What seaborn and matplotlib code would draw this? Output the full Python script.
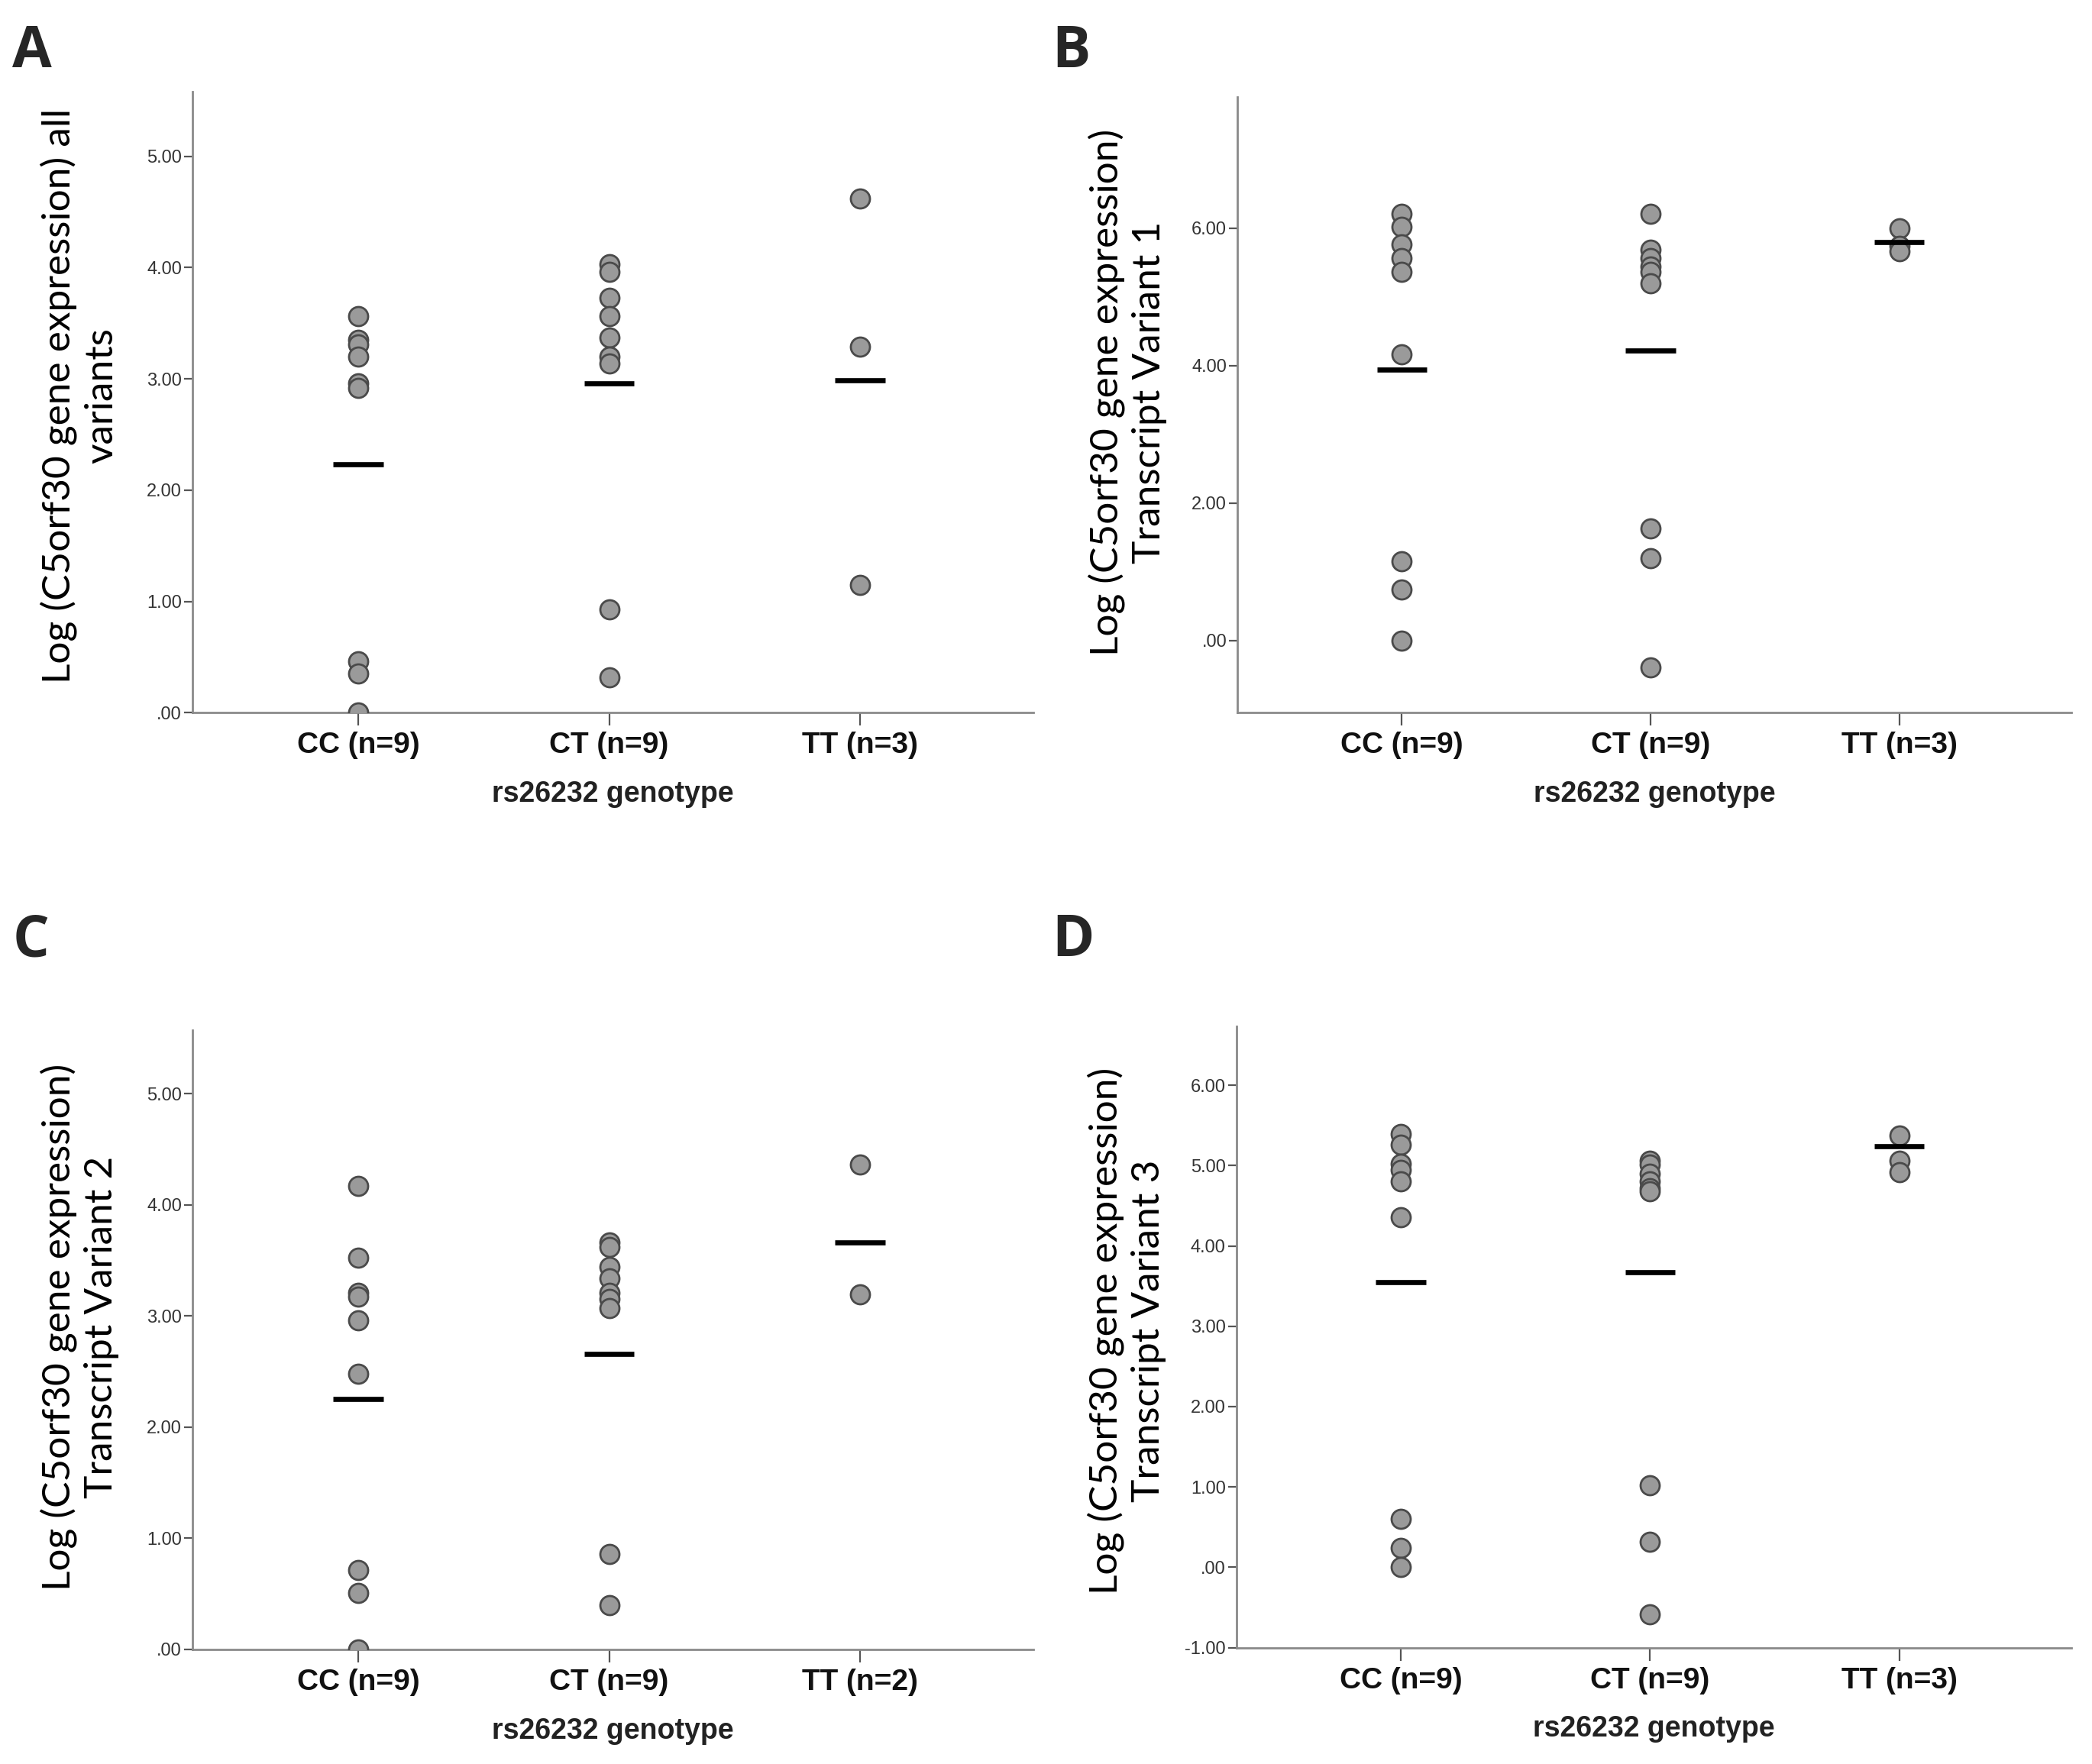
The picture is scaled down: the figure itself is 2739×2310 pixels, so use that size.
import matplotlib
matplotlib.use("Agg")
import matplotlib.pyplot as plt
import seaborn as sns
import pandas as pd
from matplotlib.ticker import FuncFormatter

# genotype groups
genotypes = ["CC", "CT", "TT"]

# A - all variants
a_cc = [3.56, 3.35, 3.31, 3.20, 2.96, 2.92, 0.46, 0.35, 0.00]
a_ct = [4.03, 3.96, 3.73, 3.56, 3.37, 3.20, 3.14, 0.93, 0.32]
a_tt = [4.62, 3.29, 1.15]
a_means = [2.23, 2.96, 2.99]

# B - transcript variant 1
b_cc = [6.21, 6.02, 5.77, 5.56, 5.36, 4.16, 1.15, 0.74, 0.00]
b_ct = [6.21, 5.69, 5.57, 5.44, 5.36, 5.20, 1.63, 1.20, -0.39]
b_tt = [6.00, 5.74, 5.66]
b_means = [3.94, 4.22, 5.80]

# C - transcript variant 2
c_cc = [4.17, 3.52, 3.21, 3.17, 2.96, 2.48, 0.71, 0.51, 0.00]
c_ct = [3.66, 3.62, 3.44, 3.34, 3.21, 3.15, 3.07, 0.86, 0.40]
c_tt = [4.36, 3.19]
c_means = [2.25, 2.66, 3.66]

# D - transcript variant 3
d_cc = [5.39, 5.26, 5.02, 4.95, 4.80, 4.36, 0.60, 0.24, 0.00]
d_ct = [5.06, 5.01, 4.90, 4.80, 4.72, 4.68, 1.02, 0.32, -0.59]
d_tt = [5.37, 5.06, 4.92]
d_means = [3.55, 3.67, 5.24]

ylabels = [
    "Log (C5orf30 gene expression) all\nvariants",
    "Log (C5orf30 gene expression)\nTranscript Variant 1",
    "Log (C5orf30 gene expression)\nTranscript Variant 2",
    "Log (C5orf30 gene expression)\nTranscript Variant 3",
]
letters = ["A", "B", "C", "D"]

sns.set_style("ticks")
plt.rcParams["font.family"] = ["Liberation Sans", "DejaVu Sans"]


def fmt_tick(v, pos):
    s = f"{v:.2f}"
    if s.startswith("0."):
        s = s[1:]
    if s == "-0.00":
        s = ".00"
    return s


def draw_panel(ax, groups, means, ylim, yticks, ylabel, label_xy):
    rows = []
    labels = []
    for g, vals in zip(genotypes, groups):
        lab = f"{g} (n={len(vals)})"
        labels.append(lab)
        for v in vals:
            rows.append({"genotype": lab, "value": v})
    df = pd.DataFrame(rows)
    sns.stripplot(data=df, x="genotype", y="value", order=labels, jitter=False,
                  color="#9a9a9a", edgecolor="#4a4a4a", linewidth=1.0, size=9,
                  ax=ax, zorder=3)
    xs = list(range(len(labels)))
    ax.hlines(means, [x - 0.1 for x in xs], [x + 0.1 for x in xs],
              color="black", linewidth=2.4, zorder=4)
    ax.set_xlim(-0.66, 2.69)
    ax.set_ylim(*ylim)
    ax.set_yticks(yticks)
    ax.yaxis.set_major_formatter(FuncFormatter(fmt_tick))
    ax.set_xlabel("rs26232 genotype", fontsize=13.5, fontweight="bold",
                  color="#222222", labelpad=10)
    ax.set_ylabel(ylabel, fontsize=18.5, family=["Lato", "DejaVu Sans"],
                  color="black", linespacing=1.25)
    ax.yaxis.set_label_coords(*label_xy)
    for lab in ax.get_xticklabels():
        lab.set_fontweight("bold")
        lab.set_fontsize(14)
        lab.set_color("#111111")
    ax.tick_params(axis="y", labelsize=8.5, labelcolor="#333333",
                   length=4, width=0.8, color="#555555", pad=1)
    ax.tick_params(axis="x", length=6, width=0.8, color="#555555", pad=3)
    for sp in ["top", "right"]:
        ax.spines[sp].set_visible(False)
    for sp in ["left", "bottom"]:
        ax.spines[sp].set_color("#8a8a8a")
        ax.spines[sp].set_linewidth(1.0)


fig = plt.figure(figsize=(13.695, 11.55), dpi=200)
pos = [
    [0.092, 0.596, 0.402, 0.352],
    [0.5915, 0.596, 0.3985, 0.349],
    [0.092, 0.065, 0.402, 0.351],
    [0.591, 0.066, 0.399, 0.352],
]
panels = [
    ([a_cc, a_ct, a_tt], a_means, (0, 5.58), [0, 1, 2, 3, 4, 5]),
    ([b_cc, b_ct, b_tt], b_means, (-1.05, 7.91), [0, 2, 4, 6]),
    ([c_cc, c_ct, c_tt], c_means, (0, 5.57), [0, 1, 2, 3, 4, 5]),
    ([d_cc, d_ct, d_tt], d_means, (-1, 6.73), [-1, 0, 1, 2, 3, 4, 5, 6]),
]
label_xy = [(-0.087, 0.51), (-0.084, 0.52), (-0.087, 0.52), (-0.084, 0.51)]
letter_pos = [(0.006, 0.962), (0.503, 0.962), (0.006, 0.458), (0.503, 0.458)]

for i, (groups, means, ylim, yticks) in enumerate(panels):
    ax = fig.add_axes(pos[i])
    draw_panel(ax, groups, means, ylim, yticks, ylabels[i], label_xy[i])
    fig.text(letter_pos[i][0], letter_pos[i][1], letters[i], fontsize=27,
             fontweight="bold", family=["Open Sans", "DejaVu Sans"])

fig.savefig("out.png", dpi=200, facecolor="white")
